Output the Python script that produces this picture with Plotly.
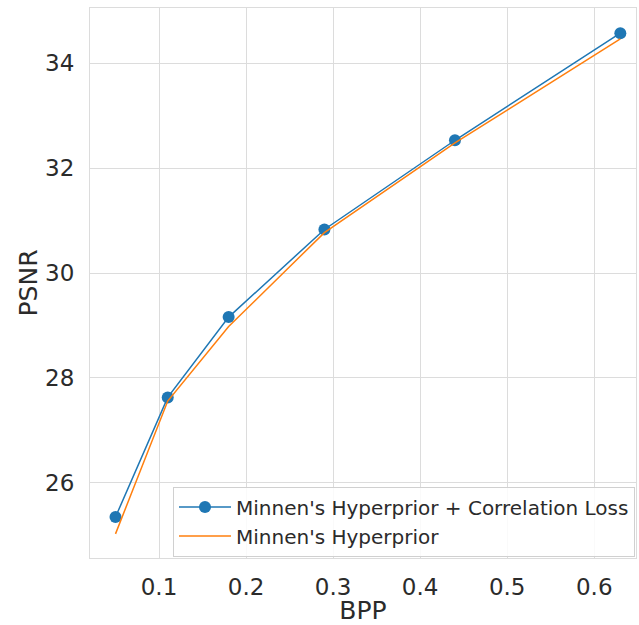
import plotly.graph_objects as go

bpp = [0.05, 0.11, 0.18, 0.29, 0.44, 0.63]
psnr_corr = [25.35, 27.63, 29.16, 30.83, 32.53, 34.57]
psnr_base = [25.03, 27.56, 28.98, 30.77, 32.48, 34.46]

x_ticks = [0.1, 0.2, 0.3, 0.4, 0.5, 0.6]
y_ticks = [26, 28, 30, 32, 34]

BLUE = "#1f77b4"
ORANGE = "#ff7f0e"
FONT = "DejaVu Sans"
GRID = "#dcdcdc"
TXT = "#2b2b2b"

fig = go.Figure()
fig.add_trace(go.Scatter(
    x=bpp, y=psnr_corr, mode="lines+markers",
    name="Minnen's Hyperprior + Correlation Loss",
    line=dict(color=BLUE, width=1.5),
    marker=dict(color=BLUE, size=12, line=dict(width=0)),
))
fig.add_trace(go.Scatter(
    x=bpp, y=psnr_base, mode="lines",
    name="Minnen's Hyperprior",
    line=dict(color=ORANGE, width=1.5),
))

fig.update_layout(
    width=639, height=625,
    margin=dict(l=90, r=3, t=8, b=67),
    paper_bgcolor="white", plot_bgcolor="white",
    font=dict(family=FONT, color=TXT),
    showlegend=True,
    legend=dict(
        x=0.152, y=0.13, xanchor="left", yanchor="top",
        bgcolor="rgba(255,255,255,0.85)", bordercolor="#d0d0d0", borderwidth=1,
        font=dict(family=FONT, size=20, color=TXT),
        itemwidth=52,
        tracegroupgap=0,
    ),
)
fig.update_xaxes(
    range=[0.0207, 0.648], tickvals=x_ticks, ticktext=[str(v) for v in x_ticks],
    showgrid=True, gridcolor=GRID, gridwidth=1,
    showline=True, mirror=True, linecolor=GRID, linewidth=1.2,
    zeroline=False, ticks="", ticklabelstandoff=8,
    tickfont=dict(family=FONT, size=23, color=TXT),
    title=dict(text="BPP", font=dict(family=FONT, size=25, color=TXT), standoff=4),
)
fig.update_yaxes(
    range=[24.57, 35.05], tickvals=y_ticks, ticktext=[str(v) for v in y_ticks],
    showgrid=True, gridcolor=GRID, gridwidth=1,
    showline=True, mirror=True, linecolor=GRID, linewidth=1.2,
    zeroline=False, ticks="", ticklabelstandoff=10,
    tickfont=dict(family=FONT, size=23, color=TXT),
    title=dict(text="PSNR", font=dict(family=FONT, size=25, color=TXT), standoff=0),
)

fig.write_html("out.html")
